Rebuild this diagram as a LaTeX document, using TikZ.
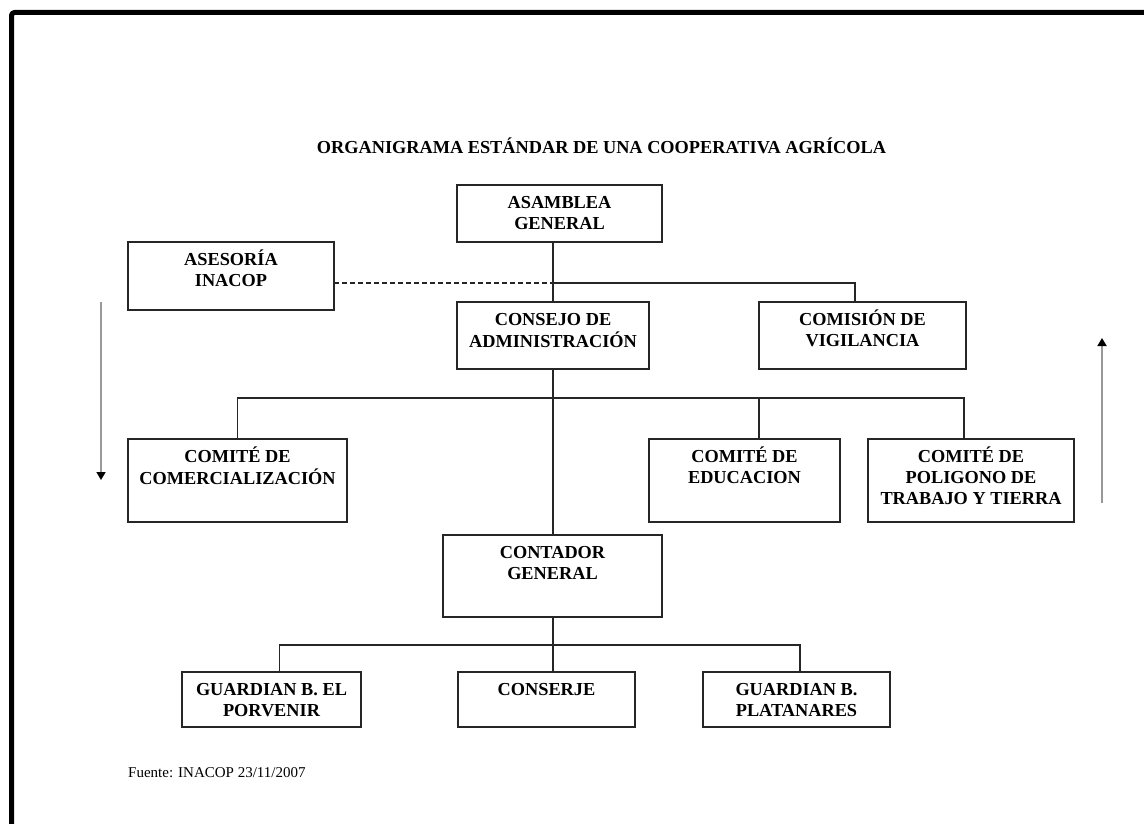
\documentclass[tikz,border=0pt]{standalone}
\usepackage{fontspec}
\setmainfont{Liberation Serif}
\usetikzlibrary{calc,arrows.meta}
\newcommand\boxfont{\fontsize{18.3}{21}\selectfont\bfseries}
\newcommand\srcfont{\fontsize{15}{18}\selectfont}
\newcommand\obox[6]{%
  \node[box, minimum width={#4-#2}, minimum height={#5-#3}] (#1) at (#2,#3) {};
  \node[lbl, yshift=-23pt] (#1-t) at (#1.north) {\begin{tabular}[t]{@{}c@{}}#6\end{tabular}};
}
\begin{document}
\begin{tikzpicture}[x=1pt,y=-1pt,
  box/.style={draw=black!85, line width=1.5pt, anchor=north west, inner sep=0pt, outer sep=0pt},
  lbl/.style={anchor=base, inner sep=0pt, font=\boxfont},
  conn/.style={draw=black!85, line width=1.4pt},
  dconn/.style={conn, dash pattern=on 5pt off 3pt},
  side/.style={draw=black!40, line width=1.7pt, -{Triangle[color=black, width=9pt, length=8pt]}},
  frame/.style={draw=black, line width=5pt, rounded corners=3pt, line join=round}
]
\useasboundingbox (0,0) rectangle (1144,824);
\fill[white] (0,0) rectangle (1144,824);
% page frame
\coordinate (fr1) at (11.5,830);
\coordinate (fr2) at (11.5,12.5);
\coordinate (fr3) at (1150,12.5);
\draw[frame] (fr1) -- (fr2) -- (fr3);

% title
\node[anchor=base, inner sep=0pt, font=\boxfont] (title) at (601.5,153.3) {ORGANIGRAMA ESTÁNDAR DE UNA COOPERATIVA AGRÍCOLA};

% boxes
\obox{asm}{457}{185}{662}{242}{ASAMBLEA\\GENERAL}
\obox{ase}{128}{242}{334}{310}{ASESORÍA\\INACOP}
\obox{con}{457}{302}{649}{369}{CONSEJO DE\\ADMINISTRACIÓN}
\obox{com}{759}{302}{966}{369}{COMISIÓN DE\\VIGILANCIA}
\obox{cme}{128}{439}{347}{522}{COMITÉ DE\\COMERCIALIZACIÓN}
\obox{edu}{649}{439}{840}{522}{COMITÉ DE\\EDUCACION}
\obox{pol}{868}{439}{1074}{522}{COMITÉ DE\\POLIGONO DE\\TRABAJO Y TIERRA}
\obox{cnt}{443}{535}{662}{617}{CONTADOR\\GENERAL}
\obox{gp}{182}{672}{361}{727}{GUARDIAN B. EL\\PORVENIR}
\obox{cs}{458}{672}{635}{727}{CONSERJE}
\obox{gpl}{703}{672}{890}{727}{GUARDIAN B.\\PLATANARES}

% junctions
\coordinate (j1) at (553,283);
\coordinate (j2) at (553,398);
\coordinate (j3) at (553,645);
\coordinate (comd) at ($(com.north west)+(96,0)$);
\coordinate (edud) at ($(edu.north west)+(110,0)$);
\coordinate (pold) at ($(pol.north west)+(96,0)$);
\coordinate (gpd) at ($(gp.north west)+(97.5,0)$);
\coordinate (csd) at ($(cs.north west)+(95,0)$);
\coordinate (gpld) at ($(gpl.north west)+(97,0)$);

% connectors
\draw[conn] (asm.south -| j1) -- (con.north -| j1);
\draw[conn] (j1) -| (comd);
\draw[dconn] (ase.east |- j1) -- (j1);
\draw[conn] (con.south -| j2) -- (cnt.north -| j2);
\draw[conn] (cme.north) |- (j2);
\draw[conn] (j2) -| (pold);
\draw[conn] (edud |- j2) -- (edud);
\draw[conn] (cnt.south -| j3) -- (csd);
\draw[conn] (gpd) |- (j3) -| (gpld);

% side arrows
\coordinate (la1) at (101,302);
\coordinate (la2) at (101,480);
\coordinate (ra1) at (1102,503);
\coordinate (ra2) at (1102,338);
\draw[side] (la1) -- (la2);
\draw[side] (ra1) -- (ra2);

% source
\node[anchor=base west, inner sep=0pt, font=\srcfont] (src) at (128,777.7) {Fuente: INACOP 23/11/2007};
\end{tikzpicture}
\end{document}
